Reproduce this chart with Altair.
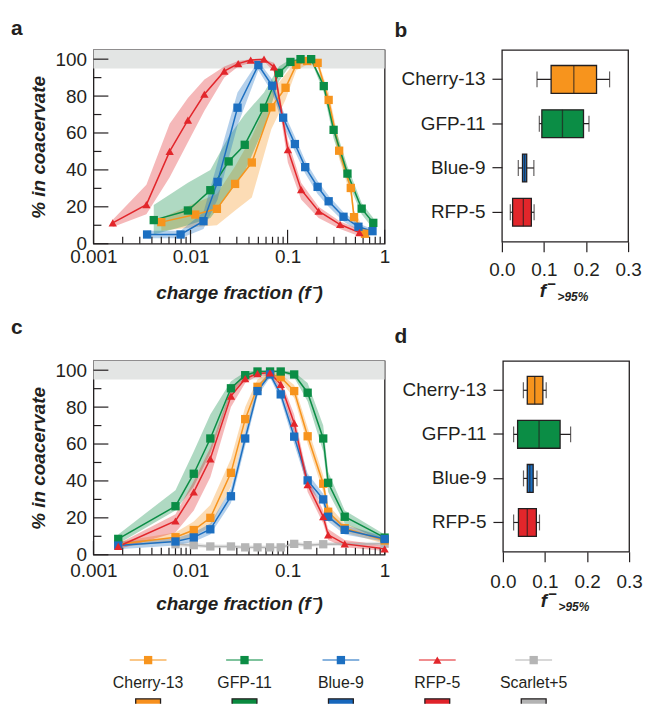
import altair as alt
import pandas as pd

FONT = "Liberation Sans"
INK = "#231f20"

SERIES = ["Cherry-13", "GFP-11", "Blue-9", "RFP-5", "Scarlet+5"]
LINE_COLORS = ["#f7941d", "#0b8d45", "#1c6fc1", "#e2262b", "#b5b5b5"]
BOX_COLORS = ["#f7901e", "#0a8a3f", "#1767bc", "#e0232a", "#b3b3b3"]
SHAPES = ["square", "square", "square", "triangle-up", "square"]
MARK_SIZES = [70, 70, 70, 140, 70]
BOX_CATS = ["Cherry-13", "GFP-11", "Blue-9", "RFP-5"]

X_MAJOR = [0.001, 0.01, 0.1, 1]
X_MINOR = [0.002, 0.003, 0.004, 0.005, 0.006, 0.007, 0.008, 0.009,
           0.02, 0.03, 0.04, 0.05, 0.06, 0.07, 0.08, 0.09,
           0.2, 0.3, 0.4, 0.5, 0.6, 0.7, 0.8, 0.9]
Y_MAJOR = [0, 20, 40, 60, 80, 100]
Y_MINOR = [10, 30, 50, 70, 90]
BOX_TICKS = [0.0, 0.1, 0.2, 0.3]

# ---------- panel a ----------
A_CHERRY_F = [0.005, 0.0112, 0.0187, 0.0288, 0.0428, 0.068, 0.0953, 0.123, 0.159, 0.204, 0.265, 0.34, 0.448, 0.484, 0.627]
A_CHERRY_P = [11.7, 15.8, 18.9, 32.4, 44.0, 73.9, 84.5, 97.0, 99.0, 98.0, 77.9, 50.4, 30.2, 14.4, 5.4]
A_CHERRY_LO = [7, 9, 10, 18, 25, 62, 78, 94, 97, 96, 74, 46, 26, 11, 4]
A_CHERRY_HI = [14, 22, 27, 42, 58, 82, 92, 99, 100, 99.5, 82, 55, 34, 18, 7]

A_GFP_F = [0.00418, 0.0094, 0.016, 0.0247, 0.0362, 0.0572, 0.0815, 0.107, 0.136, 0.175, 0.236, 0.298, 0.414, 0.58, 0.764]
A_GFP_P = [12.8, 18.0, 29.0, 44.6, 53.6, 73.7, 92.6, 98.5, 100, 100, 85.4, 61.7, 38.0, 19.0, 11.3]
A_GFP_LO = [5, 10, 14, 27, 39, 63, 88, 97, 99, 99, 82, 57, 34, 16, 8]
A_GFP_HI = [21, 33, 40, 58, 70, 82, 96, 100, 100, 100, 88, 66, 42, 22, 14]

A_BLUE_F = [0.00357, 0.0079, 0.0136, 0.019, 0.0305, 0.05, 0.0695, 0.09, 0.119, 0.152, 0.204, 0.265, 0.377, 0.537, 0.75]
A_BLUE_P = [5, 5, 12.2, 33.5, 73.7, 96.8, 85.6, 68.3, 54, 41.5, 30.8, 23, 14.6, 9.2, 6.8]
A_BLUE_LO = [3, 3, 8, 24, 64, 94, 82, 64, 50, 38, 27, 20, 12, 7, 5]
A_BLUE_HI = [7, 7, 17, 44, 82, 99, 89, 72, 58, 45, 34, 26, 17, 11, 8]

A_RFP_F = [0.00158, 0.00351, 0.0061, 0.0094, 0.0139, 0.0223, 0.031, 0.0417, 0.0572, 0.0724, 0.1007, 0.138, 0.209, 0.348, 0.55]
A_RFP_P = [11.3, 21.2, 50, 67, 81, 93.5, 97.6, 99.5, 100, 95.8, 51, 29.3, 17.6, 10.4, 6]
A_RFP_LO = [9, 16, 36, 55, 72, 90, 96, 98, 99, 93, 44, 24, 14, 8, 4]
A_RFP_HI = [13, 32, 65, 79, 89, 96, 99, 100, 100, 98, 56, 33, 20, 12, 8]

# ---------- panel c ----------
C_F = [0.0018, 0.007, 0.0108, 0.016, 0.0261, 0.0366, 0.049, 0.066, 0.085, 0.117, 0.161, 0.233, 0.262, 0.388, 1.0]
C_CHERRY_P = [5.7, 9.5, 13.4, 20, 44.4, 73.5, 91, 98, 96.2, 88.7, 64.2, 38.5, 23.3, 14.4, 7.7]
C_CHERRY_LO = [4, 7, 10, 15, 37, 67, 88, 97, 94, 85, 60, 34, 20, 12, 6]
C_CHERRY_HI = [7, 12, 18, 27, 52, 80, 95, 99, 98, 92, 69, 43, 27, 17, 9]
C_GFP_P = [8.6, 26.3, 43.9, 63, 90.2, 97.3, 99.3, 99.3, 99.3, 97.7, 87.8, 63, 39, 20.6, 9.3]
C_GFP_LO = [6, 24, 37, 55, 87, 96, 99, 99, 99, 96, 83, 56, 34, 17, 7]
C_GFP_HI = [11, 35, 56, 76, 94, 99, 100, 100, 100, 99, 93, 70, 45, 24, 11]
C_BLUE_P = [5, 7.2, 9.4, 13.8, 31.7, 63, 88.7, 97.7, 86.9, 64, 40.3, 30, 20.6, 13.5, 8.5]
C_BLUE_LO = [3, 5, 7, 11, 28, 59, 86, 96, 84, 60, 37, 27, 18, 11, 7]
C_BLUE_HI = [7, 9, 12, 17, 36, 67, 92, 99, 90, 68, 44, 33, 23, 16, 10]
C_RFP_P = [4.5, 18.3, 34, 52, 86, 95.4, 98.2, 98.6, 92.3, 71.3, 38, 20.6, 10.8, 5.9, 3.2]
C_RFP_LO = [3, 12, 24, 42, 80, 93, 97, 97, 90, 66, 34, 17, 8, 4, 2]
C_RFP_HI = [6, 22, 40, 58, 90, 97, 99, 99, 95, 76, 42, 24, 14, 8, 5]
C_SCARLET_F = [0.007, 0.0108, 0.016, 0.0261, 0.0366, 0.049, 0.066, 0.085, 0.117, 0.161, 0.233, 1.0]
C_SCARLET_P = [5.7, 5.2, 4.5, 4.5, 4.0, 4.0, 4.0, 4.0, 5.9, 5.2, 5.7, 6.0]
C_SCARLET_LO = [4.5, 4, 3.5, 3.5, 3, 3, 3, 3, 4.8, 4.2, 4.7, 5]
C_SCARLET_HI = [7, 6.5, 5.5, 5.5, 5, 5, 5, 5, 7, 6.3, 6.8, 7]

# ---------- panel b / d (boxes) ----------
B_WLO = [0.0835, 0.089, 0.039, 0.020]
B_Q1 = [0.117, 0.095, 0.049, 0.0255]
B_MED = [0.171, 0.144, 0.054, 0.051]
B_Q3 = [0.225, 0.194, 0.059, 0.070]
B_WHI = [0.256, 0.207, 0.076, 0.0766]

D_WLO = [0.0487, 0.0255, 0.049, 0.0255]
D_Q1 = [0.058, 0.035, 0.058, 0.037]
D_MED = [0.0757, 0.086, 0.064, 0.058]
D_Q3 = [0.095, 0.136, 0.072, 0.0796]
D_WHI = [0.103, 0.161, 0.081, 0.087]


def series_frame(name, f, p, lo, hi):
    return pd.DataFrame({"series": name, "f": f, "p": p, "lo": lo, "hi": hi})


COLOR = alt.Color("series:N", scale=alt.Scale(domain=SERIES, range=LINE_COLORS), legend=None)
SHAPE = alt.Shape("series:N", scale=alt.Scale(domain=SERIES, range=SHAPES), legend=None)
SIZE = alt.Size("series:N", scale=alt.Scale(domain=SERIES, range=MARK_SIZES), legend=None)


def line_panel(frames, letter, letter_x, letter_y, label_pad, title_pad):
    W, H = 293, 195
    df = pd.concat(frames, ignore_index=True)
    xs = alt.Scale(type="log", domain=[0.001, 1], nice=False)
    ys = alt.Scale(domain=[0, 105], nice=False, zero=False)
    xa = alt.Axis(values=X_MAJOR, format="~g", title="charge fraction (f⁻)", ticks=False,
                  domain=False, grid=False, labelFontSize=19, labelPadding=label_pad,
                  labelFlush=False, labelOverlap=False,
                  titleFontSize=19, titleFontWeight="bold", titleFontStyle="italic",
                  titlePadding=title_pad)
    ya = alt.Axis(values=Y_MAJOR, title="% in coacervate", ticks=False, domain=False,
                  grid=False, labelFontSize=19, labelPadding=7,
                  titleFontSize=19, titleFontWeight="bold", titleFontStyle="italic",
                  titlePadding=7)

    def X(field):
        return alt.X(field, type="quantitative", scale=xs, axis=xa)

    def Y(field):
        return alt.Y(field, type="quantitative", scale=ys, axis=ya, stack=False)

    one = pd.DataFrame({"k": [0]})
    band = alt.Chart(one).mark_rect(color="#e3e5e4").encode(
        x=alt.value(0), x2=alt.value(W),
        y=alt.YDatum(95, scale=ys, axis=ya), y2=alt.Y2Datum(105))
    areas = alt.Chart(df).mark_area(opacity=0.33).encode(
        x=X("f"), y=Y("lo"), y2="hi", color=COLOR)
    xt_maj = alt.Chart(pd.DataFrame({"t": X_MAJOR})).mark_rule(color=INK, strokeWidth=1.2).encode(
        x=X("t"), y=alt.value(H), y2=alt.value(H - 14))
    xt_min = alt.Chart(pd.DataFrame({"t": X_MINOR})).mark_rule(color=INK, strokeWidth=1.2).encode(
        x=X("t"), y=alt.value(H), y2=alt.value(H - 7))
    yt_maj = alt.Chart(pd.DataFrame({"t": Y_MAJOR})).mark_rule(color=INK, strokeWidth=1.2).encode(
        y=Y("t"), x=alt.value(0), x2=alt.value(15))
    yt_min = alt.Chart(pd.DataFrame({"t": Y_MINOR})).mark_rule(color=INK, strokeWidth=1.2).encode(
        y=Y("t"), x=alt.value(0), x2=alt.value(8))
    lines = alt.Chart(df).mark_line(strokeWidth=1.5).encode(
        x=X("f"), y=Y("p"), color=COLOR)
    points = alt.Chart(df).mark_point(filled=True, opacity=1).encode(
        x=X("f"), y=Y("p"), color=COLOR, shape=SHAPE, size=SIZE)
    lab = alt.Chart(pd.DataFrame({"t": [letter]})).mark_text(
        font=FONT, fontSize=21, fontWeight="bold", align="left", baseline="alphabetic", color=INK
    ).encode(text="t:N", x=alt.value(letter_x), y=alt.value(letter_y))
    return alt.layer(band, areas, xt_maj, xt_min, yt_maj, yt_min, lines, points, lab).properties(
        width=W, height=H)


def box_panel(wlo, q1, med, q3, whi, letter, letter_x, letter_y, H, label_pad):
    W = 127
    df = pd.DataFrame({"cat": BOX_CATS, "wlo": wlo, "q1": q1, "med": med, "q3": q3, "whi": whi})
    xs = alt.Scale(domain=[0, 0.3], nice=False, zero=False)
    xa = alt.Axis(values=BOX_TICKS, format=".1f", title=None, domain=False, grid=False,
                  tickSize=10, tickWidth=1.2, labelFontSize=19, labelPadding=label_pad,
                  labelFlush=False, labelOverlap=False)
    ys = alt.Scale(domain=BOX_CATS, paddingInner=0, paddingOuter=0.165)
    ya = alt.Axis(title=None, domain=False, grid=False, tickSize=10, tickWidth=1.2,
                  labelFontSize=19, labelPadding=7)

    def X(field):
        return alt.X(field, type="quantitative", scale=xs, axis=xa)

    y = alt.Y("cat:N", sort=BOX_CATS, scale=ys, axis=ya)
    fill = alt.Color("cat:N", scale=alt.Scale(domain=SERIES, range=BOX_COLORS), legend=None)
    base = alt.Chart(df)
    whisk = base.mark_rule(color=INK, strokeWidth=1.2).encode(x=X("wlo"), x2="whi", y=y)
    cap_lo = base.mark_tick(color=INK, size=16, thickness=1.2).encode(x=X("wlo"), y=y)
    cap_hi = base.mark_tick(color=INK, size=16, thickness=1.2).encode(x=X("whi"), y=y)
    box = base.mark_bar(size=28, stroke=INK, strokeWidth=1.3, opacity=1).encode(
        x=X("q1"), x2="q3", y=y, color=fill)
    median = base.mark_tick(color=INK, size=28, thickness=1.3).encode(x=X("med"), y=y)
    lab = alt.Chart(pd.DataFrame({"t": [letter]})).mark_text(
        font=FONT, fontSize=21, fontWeight="bold", align="left", baseline="alphabetic", color=INK
    ).encode(text="t:N", x=alt.value(letter_x), y=alt.value(letter_y))
    t_f = alt.Chart(pd.DataFrame({"t": ["f"]})).mark_text(
        font=FONT, fontSize=19, fontWeight="bold", fontStyle="italic", align="left",
        baseline="alphabetic", color=INK
    ).encode(text="t:N", x=alt.value(38), y=alt.value(H + 56))
    t_sup = alt.Chart(pd.DataFrame({"t": ["−"]})).mark_text(
        font=FONT, fontSize=15, fontWeight="bold", align="center",
        baseline="alphabetic", color=INK
    ).encode(text="t:N", x=alt.value(50), y=alt.value(H + 48))
    t_sub = alt.Chart(pd.DataFrame({"t": [">95%"]})).mark_text(
        font=FONT, fontSize=12, fontWeight="bold", fontStyle="italic", align="left",
        baseline="alphabetic", color=INK
    ).encode(text="t:N", x=alt.value(56), y=alt.value(H + 60))
    return alt.layer(whisk, cap_lo, cap_hi, box, median, lab, t_f, t_sup, t_sub).properties(
        width=W, height=H)


frames_a = [
    series_frame("Cherry-13", A_CHERRY_F, A_CHERRY_P, A_CHERRY_LO, A_CHERRY_HI),
    series_frame("GFP-11", A_GFP_F, A_GFP_P, A_GFP_LO, A_GFP_HI),
    series_frame("Blue-9", A_BLUE_F, A_BLUE_P, A_BLUE_LO, A_BLUE_HI),
    series_frame("RFP-5", A_RFP_F, A_RFP_P, A_RFP_LO, A_RFP_HI),
]
frames_c = [
    series_frame("Scarlet+5", C_SCARLET_F, C_SCARLET_P, C_SCARLET_LO, C_SCARLET_HI),
    series_frame("Cherry-13", C_F, C_CHERRY_P, C_CHERRY_LO, C_CHERRY_HI),
    series_frame("GFP-11", C_F, C_GFP_P, C_GFP_LO, C_GFP_HI),
    series_frame("Blue-9", C_F, C_BLUE_P, C_BLUE_LO, C_BLUE_HI),
    series_frame("RFP-5", C_F, C_RFP_P, C_RFP_LO, C_RFP_HI),
]

pa = line_panel(frames_a, "a", -83, -15, 4, 17)
pb = box_panel(B_WLO, B_Q1, B_MED, B_Q3, B_WHI, "b", -108, -13, 193, 9)
pc = line_panel(frames_c, "c", -83, -27, 7, 14)
pd_ = box_panel(D_WLO, D_Q1, D_MED, D_Q3, D_WHI, "d", -109, -18, 192, 11)

# ---------- legend (origin aligned with panel a's plot area) ----------
LEG_H = 52
ldf = pd.DataFrame({"series": SERIES})
lx = alt.X("series:N", sort=SERIES,
           scale=alt.Scale(type="point", domain=SERIES, range=[55, 443], padding=0), axis=None)
lbase = alt.Chart(ldf)
l_line = lbase.mark_tick(orient="horizontal", size=37, thickness=1.5).encode(
    x=lx, y=alt.value(8), color=COLOR)
l_pt = lbase.mark_point(filled=True, opacity=1).encode(
    x=lx, y=alt.value(8), color=COLOR, shape=SHAPE,
    size=alt.Size("series:N", scale=alt.Scale(domain=SERIES, range=[50, 50, 50, 100, 50]), legend=None))
l_txt = lbase.mark_text(font=FONT, fontSize=16, baseline="alphabetic", color=INK).encode(
    x=lx, y=alt.value(36), text="series:N")
l_sw = lbase.mark_point(shape="M-1,-0.56L1,-0.56L1,0.56L-1,0.56Z", size=625, filled=True,
                        opacity=1, stroke=INK, strokeWidth=1.3, clip=True).encode(
    x=lx, y=alt.value(54),
    fill=alt.Fill("series:N", scale=alt.Scale(domain=SERIES, range=BOX_COLORS), legend=None))
legend = alt.layer(l_line, l_pt, l_txt, l_sw).properties(
    width=480, height=LEG_H, view=alt.ViewBackground(stroke="transparent"))

rows = alt.vconcat(alt.hconcat(pa, pb, spacing=3), alt.hconcat(pc, pd_, spacing=3), spacing=12)
chart = alt.vconcat(rows, legend, spacing=37).properties(
    padding={"left": 2, "top": 7, "right": 0, "bottom": 0}
).configure(font=FONT).configure_view(stroke=INK, strokeWidth=1.3).configure_axis(
    labelColor=INK, titleColor=INK, tickColor=INK, labelFont=FONT, titleFont=FONT)

chart.save("out.html", embed_options={"renderer": "svg", "actions": False})
